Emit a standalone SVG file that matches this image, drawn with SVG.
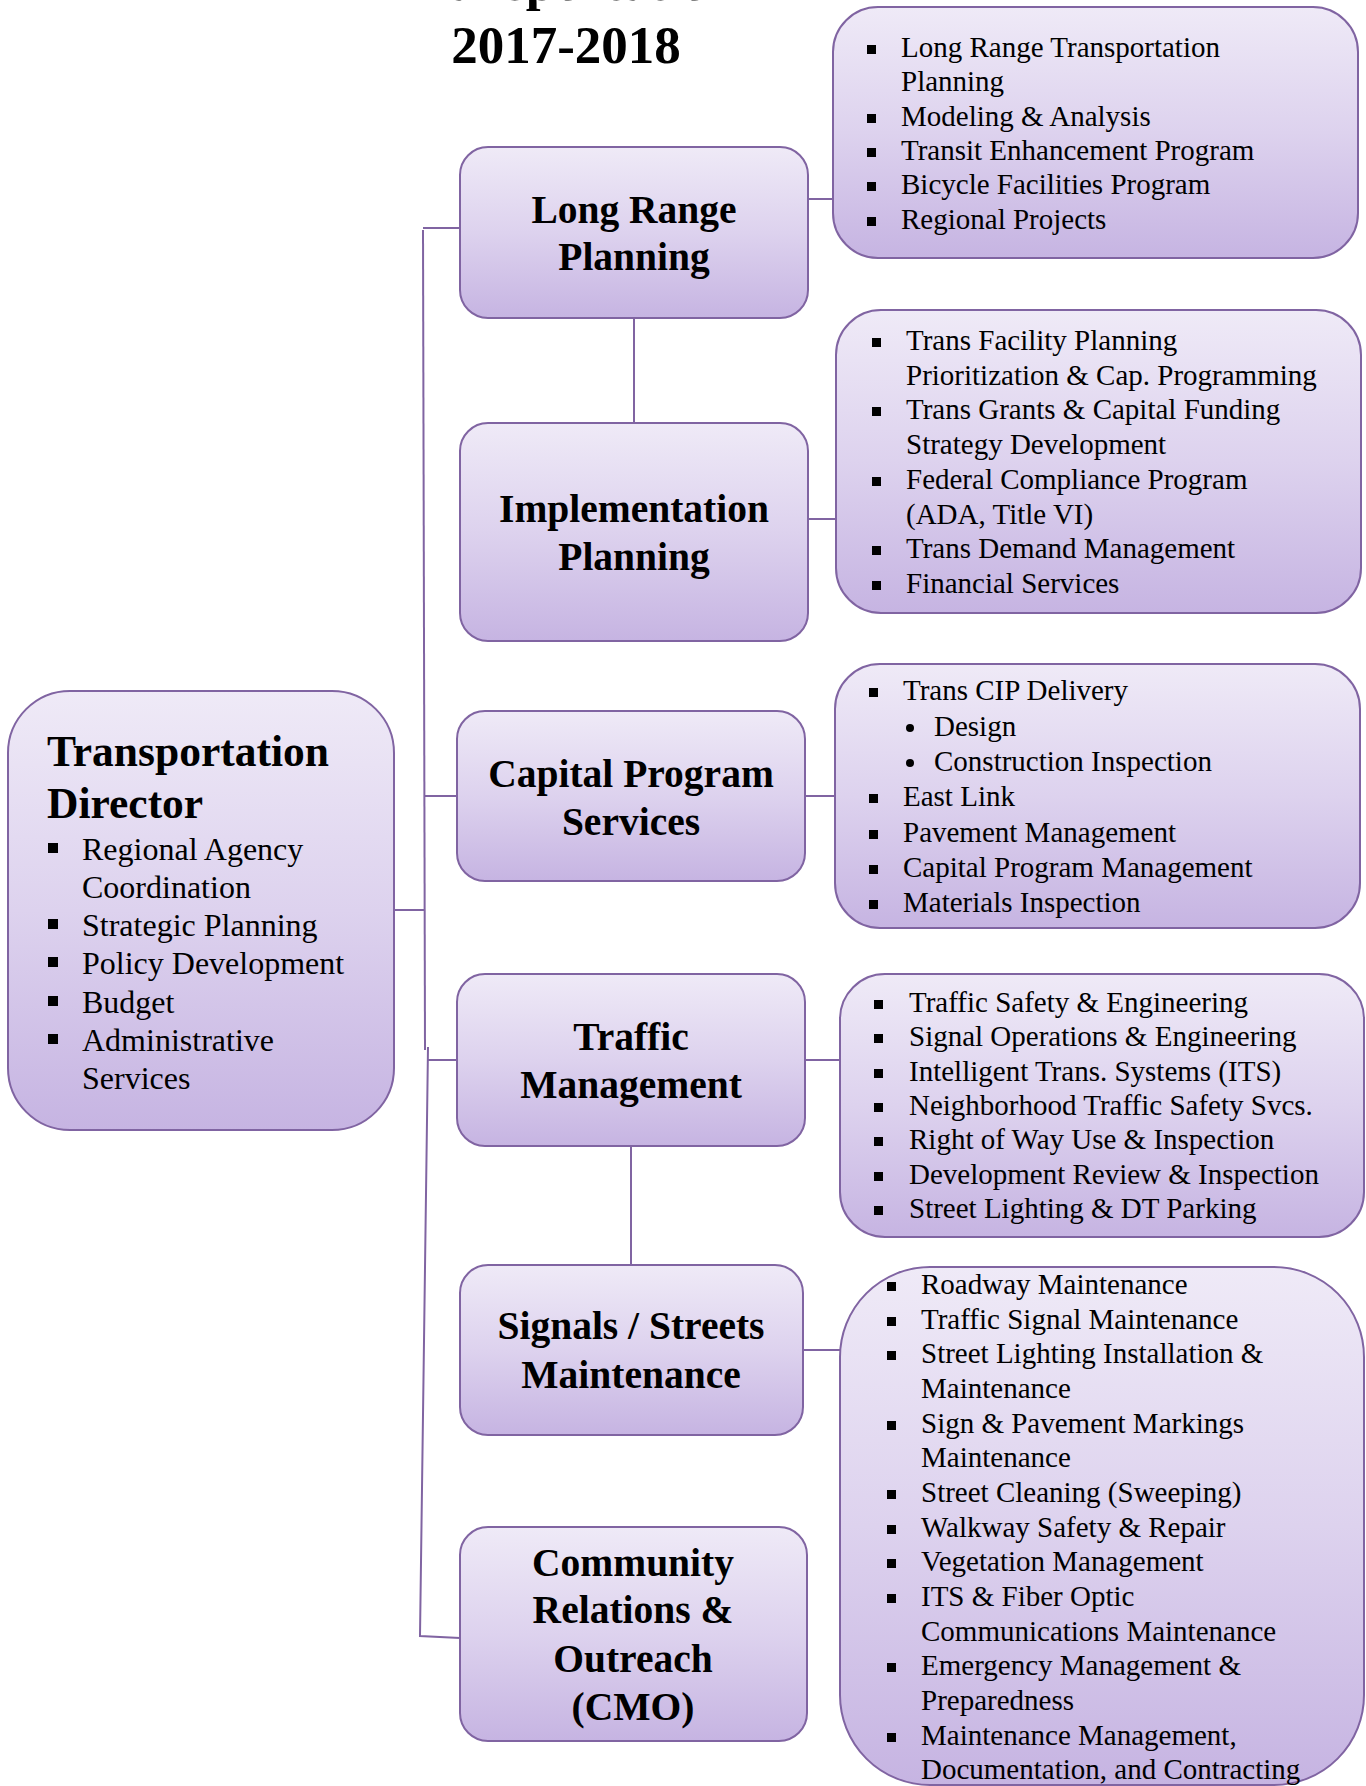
<svg xmlns="http://www.w3.org/2000/svg" width="1366" height="1786" viewBox="0 0 1366 1786">
<defs>
<linearGradient id="g" x1="0" y1="0" x2="0" y2="1">
<stop offset="0" stop-color="#EFEAF7"/>
<stop offset="0.5" stop-color="#DDD2EE"/>
<stop offset="1" stop-color="#C6B4E2"/>
</linearGradient>
<style>
.box{fill:url(#g);stroke:#8064A2;stroke-width:2}
.ln{fill:none;stroke:#8064A2;stroke-width:2}
.h{font-family:"Liberation Serif","Times New Roman",serif;font-weight:bold;fill:#000;text-anchor:middle}
.t{font-family:"Liberation Serif","Times New Roman",serif;fill:#000;font-size:29px}
.d{font-family:"Liberation Serif","Times New Roman",serif;fill:#000;font-size:32px}
.b{fill:#000}
</style>
</defs>
<rect width="1366" height="1786" fill="#fff"/>
<g id="title">
<text class="h" x="566" y="0" font-size="53">Transportation</text>
<text class="h" x="566" y="63" font-size="53">2017-2018</text>
</g>
<g id="connectors">
<polyline class="ln" points="460,228 423,228"/>
<polyline class="ln" points="423,230 425,1050"/>
<polyline class="ln" points="394,910 424,910"/>
<polyline class="ln" points="424,796 457,796"/>
<polyline class="ln" points="428,1047 420,1636 460,1638"/>
<polyline class="ln" points="428,1060 457,1060"/>
<polyline class="ln" points="634,318 634,423"/>
<polyline class="ln" points="631,1146 631,1265"/>
<polyline class="ln" points="808,199 833,199"/>
<polyline class="ln" points="808,519 836,519"/>
<polyline class="ln" points="805,796 835,796"/>
<polyline class="ln" points="805,1060 840,1060"/>
<polyline class="ln" points="803,1350 841,1350"/>
</g>
<g id="director">
<rect class="box" x="8" y="691" width="386" height="439" rx="62"/>
<text class="h" x="47" y="766" font-size="43.5" style="text-anchor:start">Transportation</text>
<text class="h" x="47" y="818" font-size="43.5" style="text-anchor:start">Director</text>
<rect class="b" x="48" y="843" width="10" height="10"/>
<text class="d" x="82" y="860">Regional Agency</text>
<text class="d" x="82" y="898">Coordination</text>
<rect class="b" x="48" y="919" width="10" height="10"/>
<text class="d" x="82" y="936">Strategic Planning</text>
<rect class="b" x="48" y="957" width="10" height="10"/>
<text class="d" x="82" y="974">Policy Development</text>
<rect class="b" x="48" y="996" width="10" height="10"/>
<text class="d" x="82" y="1013">Budget</text>
<rect class="b" x="48" y="1034" width="10" height="10"/>
<text class="d" x="82" y="1051">Administrative</text>
<text class="d" x="82" y="1089">Services</text>
</g>
<g id="lrp">
<rect class="box" x="460" y="147" width="348" height="171" rx="28"/>
<text class="h" x="634" y="223" font-size="39.5">Long Range</text>
<text class="h" x="634" y="270" font-size="39.5">Planning</text>
</g>
<g id="lrp-list">
<rect class="box" x="833" y="7" width="525" height="251" rx="45"/>
<rect class="b" x="867" y="45" width="9" height="9"/>
<text class="t" x="901" y="57">Long Range Transportation</text>
<text class="t" x="901" y="91">Planning</text>
<rect class="b" x="867" y="114" width="9" height="9"/>
<text class="t" x="901" y="126">Modeling &amp; Analysis</text>
<rect class="b" x="867" y="148" width="9" height="9"/>
<text class="t" x="901" y="160">Transit Enhancement Program</text>
<rect class="b" x="867" y="182" width="9" height="9"/>
<text class="t" x="901" y="194">Bicycle Facilities Program</text>
<rect class="b" x="867" y="217" width="9" height="9"/>
<text class="t" x="901" y="229">Regional Projects</text>
</g>
<g id="ip">
<rect class="box" x="460" y="423" width="348" height="218" rx="28"/>
<text class="h" x="634" y="522" font-size="39.5">Implementation</text>
<text class="h" x="634" y="570" font-size="39.5">Planning</text>
</g>
<g id="ip-list">
<rect class="box" x="836" y="310" width="525" height="303" rx="45"/>
<rect class="b" x="872" y="338" width="9" height="9"/>
<text class="t" x="906" y="350">Trans Facility Planning</text>
<text class="t" x="906" y="385">Prioritization &amp; Cap. Programming</text>
<rect class="b" x="872" y="407" width="9" height="9"/>
<text class="t" x="906" y="419">Trans Grants &amp; Capital Funding</text>
<text class="t" x="906" y="454">Strategy Development</text>
<rect class="b" x="872" y="477" width="9" height="9"/>
<text class="t" x="906" y="489">Federal Compliance Program</text>
<text class="t" x="906" y="524">(ADA, Title VI)</text>
<rect class="b" x="872" y="546" width="9" height="9"/>
<text class="t" x="906" y="558">Trans Demand Management</text>
<rect class="b" x="872" y="581" width="9" height="9"/>
<text class="t" x="906" y="593">Financial Services</text>
</g>
<g id="cps">
<rect class="box" x="457" y="711" width="348" height="170" rx="28"/>
<text class="h" x="631" y="787" font-size="39.5">Capital Program</text>
<text class="h" x="631" y="835" font-size="39.5">Services</text>
</g>
<g id="cps-list">
<rect class="box" x="835" y="664" width="525" height="264" rx="45"/>
<rect class="b" x="869" y="688" width="9" height="9"/>
<text class="t" x="903" y="700">Trans CIP Delivery</text>
<circle class="b" cx="910" cy="728" r="4"/>
<text class="t" x="934" y="736">Design</text>
<circle class="b" cx="910" cy="763" r="4"/>
<text class="t" x="934" y="771">Construction Inspection</text>
<rect class="b" x="869" y="794" width="9" height="9"/>
<text class="t" x="903" y="806">East Link</text>
<rect class="b" x="869" y="830" width="9" height="9"/>
<text class="t" x="903" y="842">Pavement Management</text>
<rect class="b" x="869" y="865" width="9" height="9"/>
<text class="t" x="903" y="877">Capital Program Management</text>
<rect class="b" x="869" y="900" width="9" height="9"/>
<text class="t" x="903" y="912">Materials Inspection</text>
</g>
<g id="tm">
<rect class="box" x="457" y="974" width="348" height="172" rx="28"/>
<text class="h" x="631" y="1050" font-size="39.5">Traffic</text>
<text class="h" x="631" y="1098" font-size="39.5">Management</text>
</g>
<g id="tm-list">
<rect class="box" x="840" y="974" width="524" height="263" rx="45"/>
<rect class="b" x="874" y="1000" width="9" height="9"/>
<text class="t" x="909" y="1012">Traffic Safety &amp; Engineering</text>
<rect class="b" x="874" y="1034" width="9" height="9"/>
<text class="t" x="909" y="1046">Signal Operations &amp; Engineering</text>
<rect class="b" x="874" y="1069" width="9" height="9"/>
<text class="t" x="909" y="1081">Intelligent Trans. Systems (ITS)</text>
<rect class="b" x="874" y="1103" width="9" height="9"/>
<text class="t" x="909" y="1115">Neighborhood Traffic Safety Svcs.</text>
<rect class="b" x="874" y="1137" width="9" height="9"/>
<text class="t" x="909" y="1149">Right of Way Use &amp; Inspection</text>
<rect class="b" x="874" y="1172" width="9" height="9"/>
<text class="t" x="909" y="1184">Development Review &amp; Inspection</text>
<rect class="b" x="874" y="1206" width="9" height="9"/>
<text class="t" x="909" y="1218">Street Lighting &amp; DT Parking</text>
</g>
<g id="ssm">
<rect class="box" x="460" y="1265" width="343" height="170" rx="28"/>
<text class="h" x="631" y="1339" font-size="39.5">Signals / Streets</text>
<text class="h" x="631" y="1388" font-size="39.5">Maintenance</text>
</g>
<g id="ssm-list">
<rect class="box" x="840" y="1267" width="524" height="518" rx="90"/>
<rect class="b" x="887" y="1282" width="9" height="9"/>
<text class="t" x="921" y="1294">Roadway Maintenance</text>
<rect class="b" x="887" y="1317" width="9" height="9"/>
<text class="t" x="921" y="1329">Traffic Signal Maintenance</text>
<rect class="b" x="887" y="1351" width="9" height="9"/>
<text class="t" x="921" y="1363">Street Lighting Installation &amp;</text>
<text class="t" x="921" y="1398">Maintenance</text>
<rect class="b" x="887" y="1421" width="9" height="9"/>
<text class="t" x="921" y="1433">Sign &amp; Pavement Markings</text>
<text class="t" x="921" y="1467">Maintenance</text>
<rect class="b" x="887" y="1490" width="9" height="9"/>
<text class="t" x="921" y="1502">Street Cleaning (Sweeping)</text>
<rect class="b" x="887" y="1525" width="9" height="9"/>
<text class="t" x="921" y="1537">Walkway Safety &amp; Repair</text>
<rect class="b" x="887" y="1559" width="9" height="9"/>
<text class="t" x="921" y="1571">Vegetation Management</text>
<rect class="b" x="887" y="1594" width="9" height="9"/>
<text class="t" x="921" y="1606">ITS &amp; Fiber Optic</text>
<text class="t" x="921" y="1641">Communications Maintenance</text>
<rect class="b" x="887" y="1663" width="9" height="9"/>
<text class="t" x="921" y="1675">Emergency Management &amp;</text>
<text class="t" x="921" y="1710">Preparedness</text>
<rect class="b" x="887" y="1733" width="9" height="9"/>
<text class="t" x="921" y="1745">Maintenance Management,</text>
<text class="t" x="921" y="1779">Documentation, and Contracting</text>
</g>
<g id="cro">
<rect class="box" x="460" y="1527" width="347" height="214" rx="28"/>
<text class="h" x="633" y="1576" font-size="39.5">Community</text>
<text class="h" x="633" y="1623" font-size="39.5">Relations &amp;</text>
<text class="h" x="633" y="1672" font-size="39.5">Outreach</text>
<text class="h" x="633" y="1720" font-size="39.5">(CMO)</text>
</g>
</svg>
